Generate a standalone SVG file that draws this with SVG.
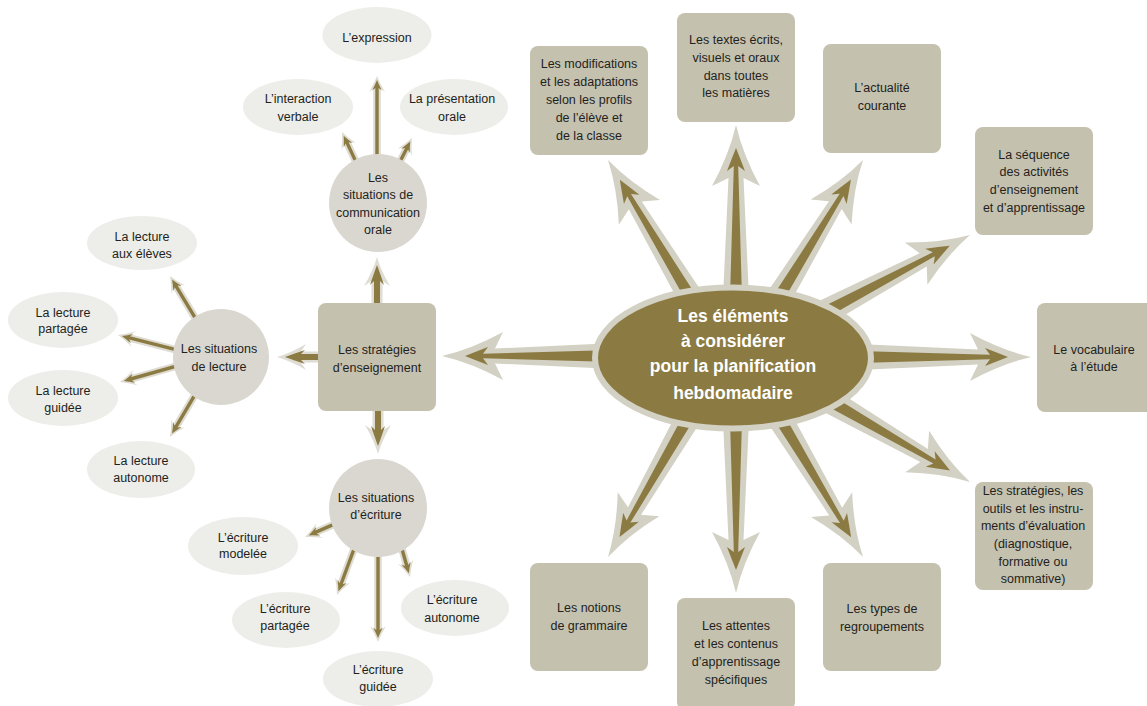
<svg xmlns="http://www.w3.org/2000/svg" xmlns:xlink="http://www.w3.org/1999/xlink" width="1147" height="706" viewBox="0 0 1147 706">
<style>
.halo{fill:#d3d0c4}
.halo2{fill:#dedcd3}
.olive{fill:#8b7b42}
.box{fill:#c5c1af}
.circ{fill:#dad7d0}
.oval{fill:#edede9}
.t{font-family:"Liberation Sans",Arial,sans-serif;font-size:12.5px;fill:#231f20;text-anchor:middle}
.c{font-family:"Liberation Sans",Arial,sans-serif;font-size:17.5px;font-weight:bold;fill:#ffffff;text-anchor:middle}
</style>
<defs>
<g id="big">
<path class="halo" d="M0,0 Q-30,7 -61,24 L-53,7.5 L-260,17 L-260,-17 L-53,-7.5 L-61,-24 Q-30,-7 0,0 Z"/>
<path class="olive" d="M-23,0 Q-33,4 -46,9 L-41,2.2 L-260,8.5 L-260,-8.5 L-41,-2.2 L-46,-9 Q-33,-4 -23,0 Z"/>
</g>
<g id="med">
<path class="halo2" d="M0,0 Q-14,4 -29,13 L-24,5.5 L-60,5.5 L-60,-5.5 L-24,-5.5 L-29,-13 Q-14,-4 0,0 Z"/>
<path class="olive" d="M-8,0 Q-16,3 -28,7 L-24,3 L-60,3 L-60,-3 L-24,-3 L-28,-7 Q-16,-3 -8,0 Z"/>
</g>
<g id="sm">
<path class="halo2" d="M0,0 Q-8,3 -16,8 L-12.5,3.8 L-100,3.8 L-100,-3.8 L-12.5,-3.8 L-16,-8 Q-8,-3 0,0 Z"/>
<path class="olive" d="M-4,0 Q-9,2 -14.5,4.8 L-12,1.7 L-100,1.7 L-100,-1.7 L-12,-1.7 L-14.5,-4.8 Q-9,-2 -4,0 Z"/>
</g>
</defs>

<g id="connectors">
<use xlink:href="#big" transform="translate(442,356) rotate(180)"/>
<use xlink:href="#big" transform="translate(608,160) rotate(239)"/>
<use xlink:href="#big" transform="translate(736,125) rotate(-90)"/>
<use xlink:href="#big" transform="translate(863,160) rotate(-58.5)"/>
<use xlink:href="#big" transform="translate(970,235) rotate(-28)"/>
<use xlink:href="#big" transform="translate(1031,357) rotate(0)"/>
<use xlink:href="#big" transform="translate(970,482) rotate(30)"/>
<use xlink:href="#big" transform="translate(863,557) rotate(59)"/>
<use xlink:href="#big" transform="translate(736,593) rotate(90)"/>
<use xlink:href="#big" transform="translate(608,557) rotate(120)"/>
<use xlink:href="#med" transform="translate(377,257) rotate(-90)"/>
<use xlink:href="#med" transform="translate(277,357) rotate(180)"/>
<use xlink:href="#med" transform="translate(378,454) rotate(90)"/>
<use xlink:href="#sm" transform="translate(377,76) rotate(-90)"/>
<use xlink:href="#sm" transform="translate(342,132) rotate(-115)"/>
<use xlink:href="#sm" transform="translate(412,138) rotate(-63)"/>
<use xlink:href="#sm" transform="translate(170,276) rotate(239)"/>
<use xlink:href="#sm" transform="translate(118,335) rotate(194.3)"/>
<use xlink:href="#sm" transform="translate(120,382) rotate(164.3)"/>
<use xlink:href="#sm" transform="translate(170,437) rotate(120.6)"/>
<use xlink:href="#sm" transform="translate(305,537) rotate(156.3)"/>
<use xlink:href="#sm" transform="translate(337,595) rotate(110.3)"/>
<use xlink:href="#sm" transform="translate(378,642) rotate(90)"/>
<use xlink:href="#sm" transform="translate(410,577) rotate(74)"/>
</g>

<g id="center">
<ellipse cx="733" cy="358" rx="138" ry="70.5" class="olive" stroke="#d3d0c4" stroke-width="6"/>
<text class="c" x="733" y="321.7">Les éléments</text>
<text class="c" x="733" y="346.7">à considérer</text>
<text class="c" x="733" y="372">pour la planification</text>
<text class="c" x="733" y="398.5">hebdomadaire</text>
</g>

<g id="modifications">
<rect x="530" y="46" width="118" height="109" rx="8" class="box"/>
<text class="t" x="589" y="68">Les modifications</text>
<text class="t" x="589" y="86">et les adaptations</text>
<text class="t" x="589" y="104">selon les profils</text>
<text class="t" x="589" y="122">de l’élève et</text>
<text class="t" x="589" y="139.5">de la classe</text>
</g>
<g id="textes">
<rect x="677" y="13" width="118" height="109" rx="8" class="box"/>
<text class="t" x="736" y="43.5">Les textes écrits,</text>
<text class="t" x="736" y="61.5">visuels et oraux</text>
<text class="t" x="736" y="79.5">dans toutes</text>
<text class="t" x="736" y="97">les matières</text>
</g>
<g id="actualite">
<rect x="823" y="44" width="118" height="109" rx="8" class="box"/>
<text class="t" x="882" y="92">L’actualité</text>
<text class="t" x="882" y="110">courante</text>
</g>
<g id="sequence">
<rect x="975" y="127" width="118" height="108" rx="8" class="box"/>
<text class="t" x="1034" y="158.5">La séquence</text>
<text class="t" x="1034" y="176">des activités</text>
<text class="t" x="1034" y="194">d’enseignement</text>
<text class="t" x="1034" y="211.5">et d’apprentissage</text>
</g>
<g id="vocabulaire">
<rect x="1037" y="303" width="118" height="109" rx="8" class="box"/>
<text class="t" x="1094" y="353.5">Le vocabulaire</text>
<text class="t" x="1094" y="371">à l’étude</text>
</g>
<g id="evaluation">
<rect x="975" y="482" width="118" height="108" rx="8" class="box"/>
<text class="t" x="1033" y="495">Les stratégies, les</text>
<text class="t" x="1033" y="512.7">outils et les instru-</text>
<text class="t" x="1033" y="530.3">ments d’évaluation</text>
<text class="t" x="1033" y="548">(diagnostique,</text>
<text class="t" x="1033" y="565.7">formative ou</text>
<text class="t" x="1033" y="583.3">sommative)</text>
</g>
<g id="regroupements">
<rect x="823" y="563" width="118" height="108" rx="8" class="box"/>
<text class="t" x="882" y="613">Les types de</text>
<text class="t" x="882" y="631">regroupements</text>
</g>
<g id="attentes">
<rect x="677" y="598" width="118" height="112" rx="8" class="box"/>
<text class="t" x="736" y="630">Les attentes</text>
<text class="t" x="736" y="648">et les contenus</text>
<text class="t" x="736" y="666">d’apprentissage</text>
<text class="t" x="736" y="684">spécifiques</text>
</g>
<g id="grammaire">
<rect x="530" y="563" width="118" height="108" rx="8" class="box"/>
<text class="t" x="589" y="612">Les notions</text>
<text class="t" x="589" y="630">de grammaire</text>
</g>
<g id="strategies-enseignement">
<rect x="318" y="303" width="118" height="108" rx="8" class="box"/>
<text class="t" x="377" y="354">Les stratégies</text>
<text class="t" x="377" y="372">d’enseignement</text>
</g>

<g id="communication-orale">
<circle cx="378" cy="203" r="49" class="circ"/>
<text class="t" x="378" y="181.7">Les</text>
<text class="t" x="378" y="199">situations de</text>
<text class="t" x="378" y="216.7">communication</text>
<text class="t" x="378" y="234">orale</text>
</g>
<g id="situations-lecture">
<circle cx="221" cy="357" r="48" class="circ"/>
<text class="t" x="219" y="353.3">Les situations</text>
<text class="t" x="219" y="370.7">de lecture</text>
</g>
<g id="situations-ecriture">
<circle cx="378" cy="508" r="49" class="circ"/>
<text class="t" x="376" y="501.7">Les situations</text>
<text class="t" x="376" y="519.3">d’écriture</text>
</g>

<g id="expression">
<ellipse cx="377" cy="35" rx="54.5" ry="28" class="oval"/>
<text class="t" x="377" y="41.7">L’expression</text>
</g>
<g id="interaction">
<ellipse cx="298" cy="107" rx="55" ry="28" class="oval"/>
<text class="t" x="298" y="103.3">L’interaction</text>
<text class="t" x="298" y="120.7">verbale</text>
</g>
<g id="presentation">
<ellipse cx="454" cy="107" rx="54" ry="28" class="oval"/>
<text class="t" x="452" y="103.3">La présentation</text>
<text class="t" x="452" y="120.7">orale</text>
</g>
<g id="lecture-eleves">
<ellipse cx="142" cy="243" rx="55" ry="27" class="oval"/>
<text class="t" x="142" y="241">La lecture</text>
<text class="t" x="142" y="258">aux élèves</text>
</g>
<g id="lecture-partagee">
<ellipse cx="63" cy="320" rx="55" ry="28" class="oval"/>
<text class="t" x="63" y="316.7">La lecture</text>
<text class="t" x="63" y="333.3">partagée</text>
</g>
<g id="lecture-guidee">
<ellipse cx="63" cy="398" rx="55" ry="28" class="oval"/>
<text class="t" x="63" y="395">La lecture</text>
<text class="t" x="63" y="411.7">guidée</text>
</g>
<g id="lecture-autonome">
<ellipse cx="141" cy="469.5" rx="54" ry="28.5" class="oval"/>
<text class="t" x="141" y="465">La lecture</text>
<text class="t" x="141" y="481.7">autonome</text>
</g>
<g id="ecriture-modelee">
<ellipse cx="243" cy="546" rx="55" ry="29" class="oval"/>
<text class="t" x="243" y="541.7">L’écriture</text>
<text class="t" x="243" y="558.3">modelée</text>
</g>
<g id="ecriture-partagee">
<ellipse cx="286" cy="620" rx="54" ry="28" class="oval"/>
<text class="t" x="285" y="613.3">L’écriture</text>
<text class="t" x="285" y="630">partagée</text>
</g>
<g id="ecriture-guidee">
<ellipse cx="378" cy="679" rx="55" ry="28" class="oval"/>
<text class="t" x="378" y="674">L’écriture</text>
<text class="t" x="378" y="690.7">guidée</text>
</g>
<g id="ecriture-autonome">
<ellipse cx="455" cy="608" rx="54" ry="28" class="oval"/>
<text class="t" x="452" y="604">L’écriture</text>
<text class="t" x="452" y="621.7">autonome</text>
</g>
</svg>
